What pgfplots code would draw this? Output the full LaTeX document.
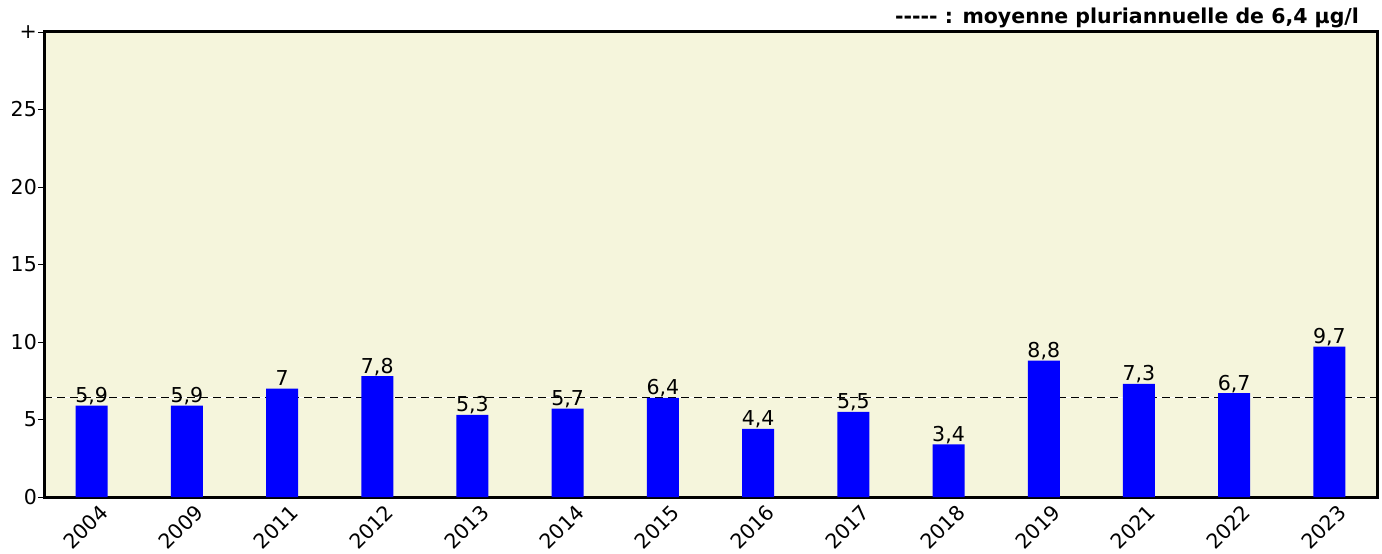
\documentclass[border=0pt]{standalone}
\usepackage{pgfplots}
\pgfplotsset{compat=1.18}
\usepackage{fontspec}
\setmainfont{DejaVu Sans}
\definecolor{bgbeige}{RGB}{245,245,220}
\pgfplotstableread{
x y
0 5.9
1 5.9
2 7
3 7.8
4 5.3
5 5.7
6 6.4
7 4.4
8 5.5
9 3.4
10 8.8
11 7.3
12 6.7
13 9.7
}\datatable
\begin{document}
\fontsize{20.5pt}{24pt}\selectfont
\begin{tikzpicture}
\begin{axis}[name=ax, scale only axis, width=1333pt, height=465pt,
  xmin=-0.5, xmax=13.5, ymin=0, ymax=30,
  axis background/.style={fill=bgbeige},
  axis line style={line width=3pt, black},
  xtick={0,...,13},
  xticklabels={2004,2009,2011,2012,2013,2014,2015,2016,2017,2018,2019,2021,2022,2023},
  x tick style={draw=none},
  xticklabel style={rotate=45, anchor=north east, xshift=6pt, yshift=-4pt, inner sep=1pt},
  ytick={0,5,10,15,20,25,30}, yticklabels={0,5,10,15,20,25,+},
  y tick style={black, line width=0.8pt},
  tick align=outside, major tick length=6pt,
  tick pos=left,
  yticklabel style={inner xsep=1pt},
  ticklabel style={font=\fontsize{20.5pt}{24pt}\selectfont},
  /pgf/number format/.cd, use comma, assume math mode=true,
]
\addplot[white, line width=1.3pt, forget plot] coordinates {(-0.5,6.4) (13.5,6.4)};
\addplot[black, line width=1.3pt, dash pattern=on 8pt off 5pt, forget plot] coordinates {(-0.5,6.4) (13.5,6.4)};
\addplot[ybar, bar width=32pt, fill=blue, draw=none,
  nodes near coords,
  every node near coord/.append style={anchor=base, yshift=3pt, inner sep=0pt, text=black, font=\fontsize{20.5pt}{24pt}\selectfont}]
  table[x=x, y=y] {\datatable};
\end{axis}
\node[anchor=base east, font=\bfseries\fontsize{20.5pt}{24pt}\selectfont] at ([shift={(-11pt,8pt)}]ax.north east) {-{}-{}-{}-{}- : moyenne pluriannuelle de 6,4 µg/l};
\pgfresetboundingbox
\path[use as bounding box] ([shift={(-44pt,-56pt)}]ax.south west) rectangle ([shift={(5pt,32pt)}]ax.north east);
\end{tikzpicture}
\end{document}
